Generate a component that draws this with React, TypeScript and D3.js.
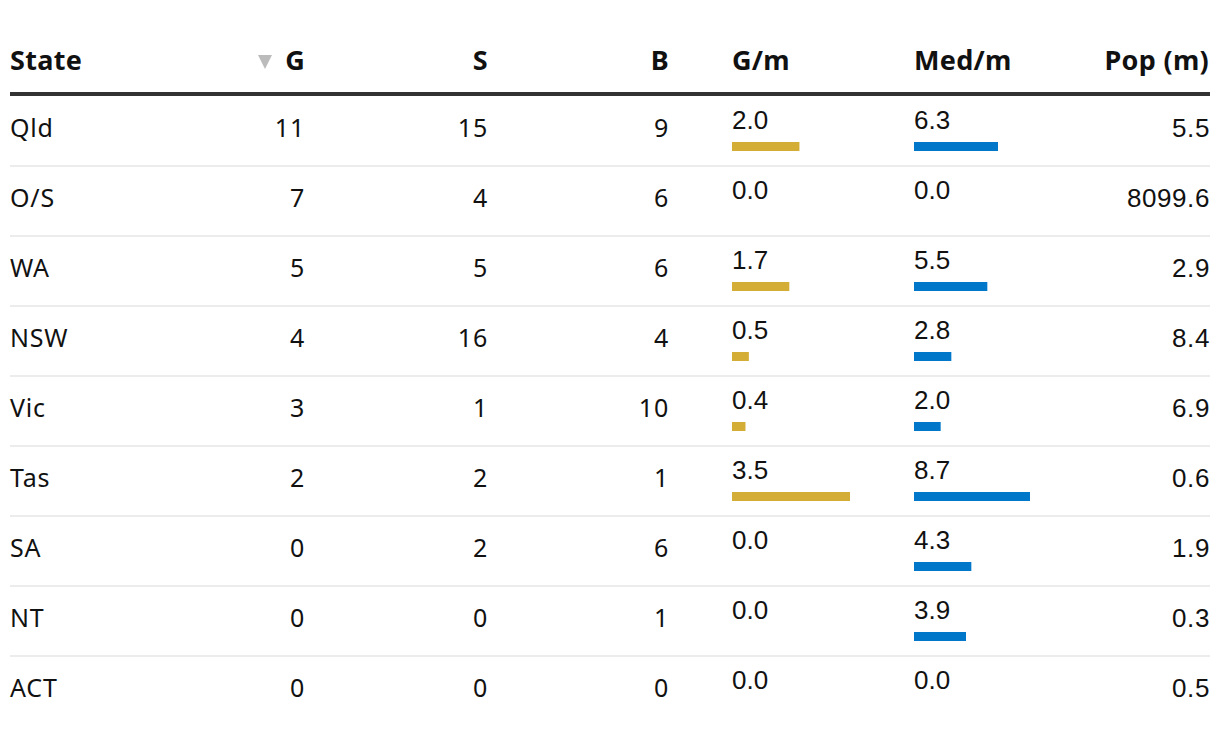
import React from "react";
import * as d3 from "d3";

const states = ["Qld", "O/S", "WA", "NSW", "Vic", "Tas", "SA", "NT", "ACT"];
const gold = [11, 7, 5, 4, 3, 2, 0, 0, 0];
const silver = [15, 4, 5, 16, 1, 2, 2, 0, 0];
const bronze = [9, 6, 6, 4, 10, 1, 6, 1, 0];
const goldPerM = [2.0, 0.0, 1.7, 0.5, 0.4, 3.5, 0.0, 0.0, 0.0];
const medPerM = [6.3, 0.0, 5.5, 2.8, 2.0, 8.7, 4.3, 3.9, 0.0];
const pop = [5.5, 8099.6, 2.9, 8.4, 6.9, 0.6, 1.9, 0.3, 0.5];
const headers = ["State", "G", "S", "B", "G/m", "Med/m", "Pop (m)"];

const W = 1220, H = 734;
const LEFT = 10, RIGHT = 1210;
const HEADER_BASE = 70;
const RULE_Y = 94;
const ROW_TOP = 96;
const ROW_H = 70;
const FONT = "'Noto Sans', 'Open Sans', sans-serif";
const NUMFONT = "'Liberation Sans', Arial, sans-serif";

export default function App() {
  const y = d3.scaleBand<number>().domain(d3.range(states.length)).range([ROW_TOP, ROW_TOP + ROW_H * states.length]);
  const gScale = d3.scaleLinear().domain([0, d3.max(goldPerM) as number]).range([0, 118]);
  const mScale = d3.scaleLinear().domain([0, d3.max(medPerM) as number]).range([0, 116]);
  const colG = 304, colS = 487, colB = 668, colGm = 732, colMm = 914;

  return (
    <svg width={W} height={H} style={{ position: "absolute", left: 0, top: 0, background: "#fff" }}>
      <g fontFamily={FONT} fontWeight={700} fontSize={27} fill="#111" letterSpacing={0.3}>
        <text x={LEFT} y={HEADER_BASE}>{headers[0]}</text>
        <path d={`M258,55 L272,55 L265,69 Z`} fill="#bbb" />
        <text x={colG + 1} y={HEADER_BASE} textAnchor="end">{headers[1]}</text>
        <text x={colS + 1} y={HEADER_BASE} textAnchor="end">{headers[2]}</text>
        <text x={colB + 1} y={HEADER_BASE} textAnchor="end">{headers[3]}</text>
        <text x={colGm} y={HEADER_BASE}>{headers[4]}</text>
        <text x={colMm} y={HEADER_BASE}>{headers[5]}</text>
        <text x={RIGHT - 1} y={HEADER_BASE} textAnchor="end">{headers[6]}</text>
      </g>
      <rect x={LEFT} y={RULE_Y - 2} width={RIGHT - LEFT} height={4} fill="#333" />
      {states.map((s, i) => {
        const top = y(i) as number;
        const base = top + 41;
        return (
          <g key={s}>
            {i < states.length - 1 && (
              <rect x={LEFT} y={top + ROW_H - 1} width={RIGHT - LEFT} height={2} fill="#ececec" />
            )}
            <g fontFamily={FONT} fontSize={25} fill="#111" letterSpacing={0.8}>
              <text x={LEFT} y={base}>{s}</text>
              <text x={colG + 1} y={base} textAnchor="end">{gold[i]}</text>
              <text x={colS + 1} y={base} textAnchor="end">{silver[i]}</text>
              <text x={colB + 1} y={base} textAnchor="end">{bronze[i]}</text>
            </g>
            <g fontFamily={NUMFONT} fontSize={26} fill="#111">
              <text x={colGm} y={top + 33}>{goldPerM[i].toFixed(1)}</text>
              <text x={colMm} y={top + 33}>{medPerM[i].toFixed(1)}</text>
              <text x={RIGHT} y={top + 41} textAnchor="end" letterSpacing={0.6}>{pop[i].toFixed(1)}</text>
            </g>
            <rect x={colGm} y={top + 46} width={gScale(goldPerM[i])} height={9} fill="#d4ad37" />
            <rect x={colMm} y={top + 46} width={mScale(medPerM[i])} height={9} fill="#0077c8" />
          </g>
        );
      })}
    </svg>
  );
}
